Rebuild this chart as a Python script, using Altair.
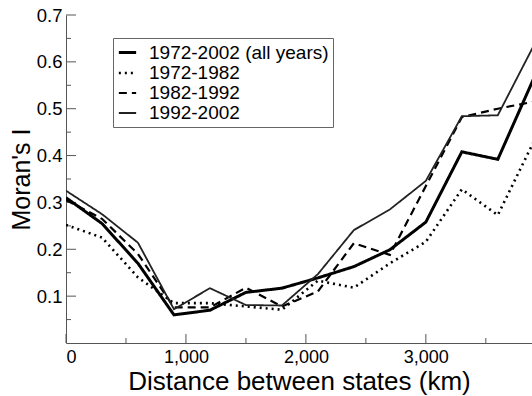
import altair as alt
import pandas as pd

# distance classes (km)
dist = [0, 300, 600, 900, 1200, 1500, 1800, 2100, 2400, 2700, 3000, 3300, 3600, 3900]

all_years = [0.310, 0.255, 0.170, 0.060, 0.070, 0.108, 0.117, 0.139, 0.163, 0.199, 0.258, 0.408, 0.392, 0.565]
p1972_1982 = [0.252, 0.225, 0.140, 0.085, 0.085, 0.078, 0.071, 0.133, 0.118, 0.170, 0.216, 0.328, 0.273, 0.430]
p1982_1992 = [0.305, 0.265, 0.190, 0.076, 0.076, 0.118, 0.078, 0.110, 0.213, 0.188, 0.335, 0.482, 0.500, 0.515]
p1992_2002 = [0.325, 0.275, 0.214, 0.072, 0.117, 0.081, 0.080, 0.147, 0.241, 0.285, 0.346, 0.484, 0.486, 0.635]

series_names = ["1972-2002 (all years)", "1972-1982", "1982-1992", "1992-2002"]
series_values = [all_years, p1972_1982, p1982_1992, p1992_2002]

x_major = [0, 1000, 2000, 3000]
x_minor = [500, 1500, 2500, 3500]
y_major = [0.1, 0.2, 0.3, 0.4, 0.5, 0.6, 0.7]
y_minor = [0.05, 0.15, 0.25, 0.35, 0.45, 0.55, 0.65]

rows = []
for name, vals in zip(series_names, series_values):
    for d, v in zip(dist, vals):
        rows.append({"dist": d, "moran": v, "period": name})
df = pd.DataFrame(rows)

W, H = 466, 328
FONT = "Liberation Sans"

xscale = alt.Scale(domain=[0, 3885], nice=False, zero=False)
yscale = alt.Scale(domain=[0, 0.7], nice=False, zero=False)

lines = alt.Chart(df).mark_line(clip=True, strokeCap="butt", strokeJoin="miter").encode(
    x=alt.X("dist:Q", scale=xscale,
            axis=alt.Axis(values=x_major, format=",d", title="Distance between states (km)",
                          ticks=False, tickSize=0, grid=False, labelPadding=5,
                          labelFontSize=18, labelFont=FONT, labelColor="black",
                          domainColor="#555", domainWidth=1,
                          titleFont=FONT, titleFontSize=26, titleFontWeight="normal",
                          titleColor="black", titleBaseline="alphabetic", titleY=46)),
    y=alt.Y("moran:Q", scale=yscale,
            axis=alt.Axis(values=y_major, format=".1f", title="Moran's I",
                          ticks=False, tickSize=0, grid=False, labelPadding=4,
                          labelFontSize=18.5, labelFont=FONT, labelColor="black",
                          domainColor="#555", domainWidth=1,
                          titleFont=FONT, titleFontSize=25, titleFontWeight="normal",
                          titleColor="black", titleBaseline="alphabetic", titleX=-37,
                          titleY=H / 2, titleAngle=270)),
    color=alt.Color("period:N", scale=alt.Scale(domain=series_names,
                                                  range=["#000000", "#000000", "#000000", "#222222"]),
                    legend=alt.Legend(title=None)),
    strokeDash=alt.StrokeDash("period:N", scale=alt.Scale(domain=series_names,
                                                            range=[[1, 0], [2, 4], [8, 5], [1, 0]]),
                              legend=alt.Legend(title=None)),
    strokeWidth=alt.StrokeWidth("period:N", scale=alt.Scale(domain=series_names,
                                                              range=[3, 1.8, 2, 1]),
                                legend=alt.Legend(title=None)),
    order=alt.Order("dist:Q"),
)

xmaj = alt.Chart(pd.DataFrame({"t": x_major})).mark_rule(color="#555", strokeWidth=1).encode(
    x=alt.X("t:Q", scale=xscale), y=alt.value(H), y2=alt.value(H - 9))
xmin = alt.Chart(pd.DataFrame({"t": x_minor})).mark_rule(color="#555", strokeWidth=1).encode(
    x=alt.X("t:Q", scale=xscale), y=alt.value(H), y2=alt.value(H - 5))
ymaj = alt.Chart(pd.DataFrame({"t": y_major})).mark_rule(color="#555", strokeWidth=1).encode(
    y=alt.Y("t:Q", scale=yscale), x=alt.value(0), x2=alt.value(10))
ymin = alt.Chart(pd.DataFrame({"t": y_minor})).mark_rule(color="#555", strokeWidth=1).encode(
    y=alt.Y("t:Q", scale=yscale), x=alt.value(0), x2=alt.value(5))

chart = alt.layer(xmaj, xmin, ymaj, ymin, lines).properties(
    width=W, height=H,
    autosize=alt.AutoSizeParams(type="none"),
    padding={"left": 66, "top": 15, "right": 0, "bottom": 53},
    background="white",
).configure_view(stroke=None).configure_legend(
    orient="none", legendX=47, legendY=23,
    strokeColor="#666", fillColor="white", padding=4,
    symbolType="stroke", symbolSize=300, labelOffset=11, labelLimit=400,
    labelFont=FONT, labelFontSize=19, labelColor="black",
    rowPadding=0, symbolStrokeColor="black",
)

chart.save("out.html", embed_options={"renderer": "svg", "actions": False})
